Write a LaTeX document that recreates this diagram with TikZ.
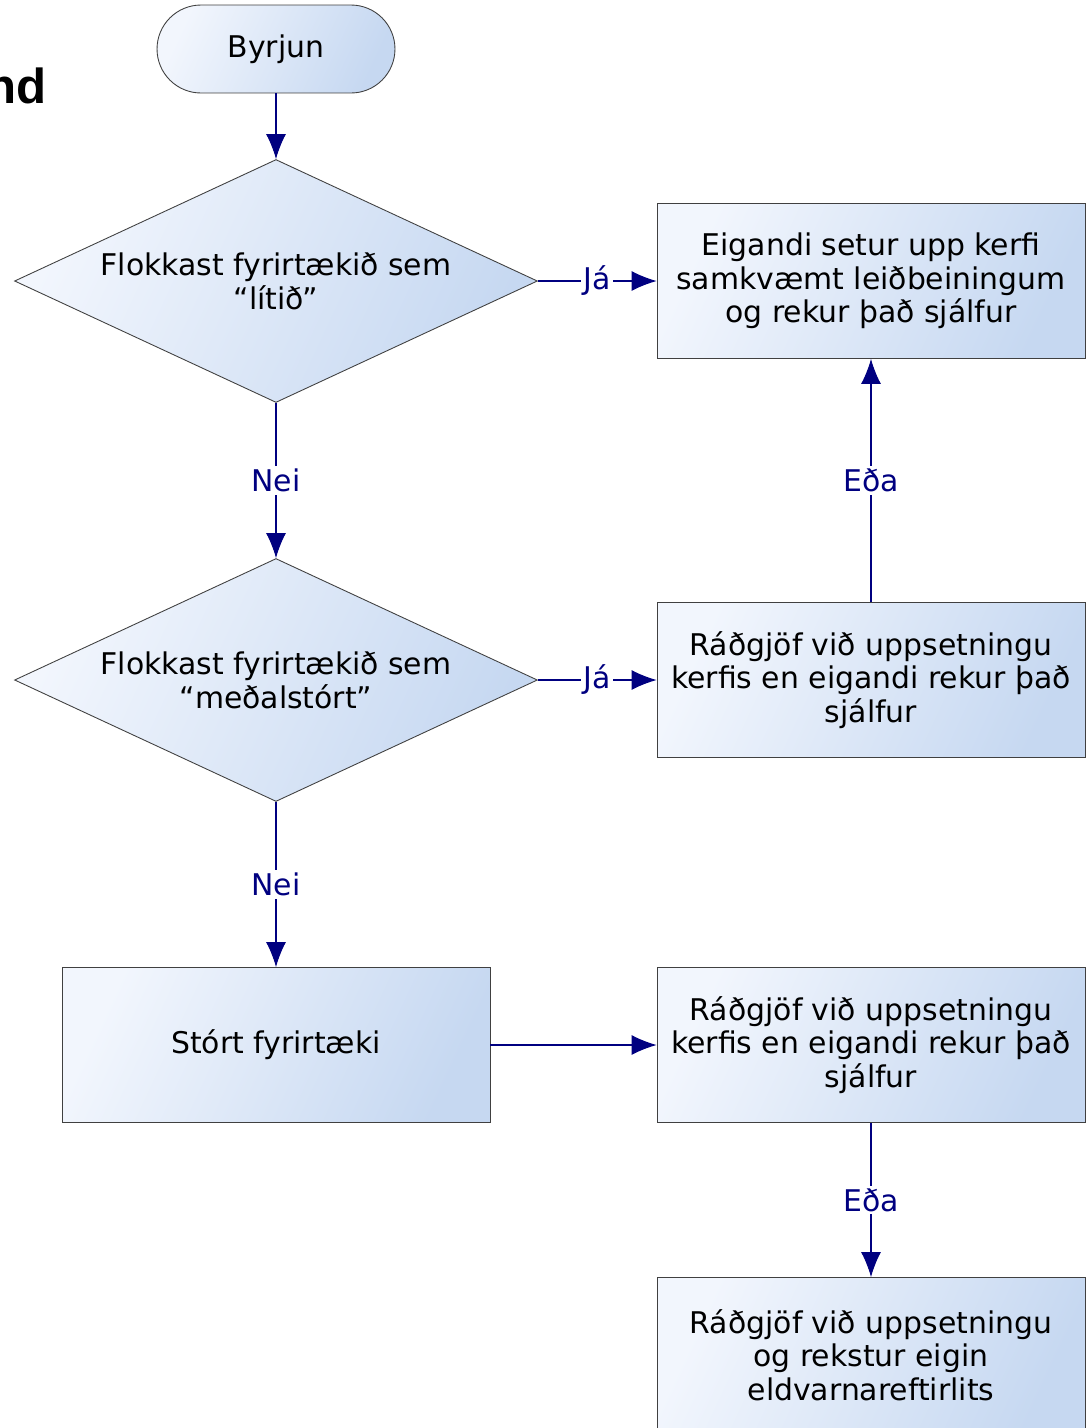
\documentclass[tikz,border=0pt]{standalone}
\usepackage{fontspec}
\setmainfont{DejaVu Sans}
\newfontfamily\titlefont{Liberation Sans}
\usetikzlibrary{shapes.geometric, arrows.meta}
\definecolor{flowline}{RGB}{0,0,128}
\definecolor{boxlight}{RGB}{242,246,253}
\definecolor{boxdark}{RGB}{198,216,241}
\definecolor{boxedge}{RGB}{64,64,64}

\begin{document}
\begin{tikzpicture}[x = 0.02cm, y = -0.02cm,
    every node/.style = {font = \fontsize{17}{19.2}\selectfont, align = center},
    boxfill/.style = {draw = boxedge, line width = 0.5pt, left color = boxlight, right color = boxdark, shading angle = 65},
    start/.style = {boxfill, rectangle, rounded corners = 0.88cm, minimum width = 4.76cm, minimum height = 1.76cm},
    decision/.style = {boxfill, diamond, shape aspect = 2.15, inner sep = 0pt, minimum width = 10.46cm, minimum height = 4.86cm},
    process/.style = {boxfill, rectangle, minimum width = 8.56cm, minimum height = 3.1cm},
    flow/.style = {draw = flowline, line width = 0.6pt, -{Latex[length = 0.5cm, width = 0.4cm]}},
    answer/.style = {fill = white, text = flowline, inner sep = 1.5pt}]
    \useasboundingbox (0,0) rectangle (1091,1428);
    \clip (0,0) rectangle (1091,1428);
        \node[anchor = base east, inner sep = 0pt, font = \titlefont\bfseries\fontsize{28}{32}\selectfont] (title) at (47,103) {nd};
        \node[start] (byrjun) at (276,49) {Byrjun};
        \node[decision] (litid) at (276,281) {Flokkast fyrirtækið sem\\“lítið”};
        \node[process] (eigandi) at (871,281) {Eigandi setur upp kerfi\\samkvæmt leiðbeiningum\\og rekur það sjálfur};
        \node[decision] (medal) at (276,680) {Flokkast fyrirtækið sem\\“meðalstórt”};
        \node[process] (radgjof) at (871,680) {Ráðgjöf við uppsetningu\\kerfis en eigandi rekur það\\sjálfur};
        \node[process] (stort) at (276,1045) {Stórt fyrirtæki};
        \node[process] (radgjofstort) at (871,1045) {Ráðgjöf við uppsetningu\\kerfis en eigandi rekur það\\sjálfur};
        \node[process] (rekstur) at (871,1355) {Ráðgjöf við uppsetningu\\og rekstur eigin\\eldvarnareftirlits};
        \draw[flow] (byrjun) -- (litid);
        \draw[flow] (litid) -- node[answer] {Já} (eigandi);
        \draw[flow] (litid) -- node[answer] {Nei} (medal);
        \draw[flow] (radgjof) -- node[answer] {Eða} (eigandi);
        \draw[flow] (medal) -- node[answer] {Já} (radgjof);
        \draw[flow] (medal) -- node[answer] {Nei} (stort);
        \draw[flow] (stort) -- (radgjofstort);
        \draw[flow] (radgjofstort) -- node[answer] {Eða} (rekstur);
\end{tikzpicture}
\end{document}
